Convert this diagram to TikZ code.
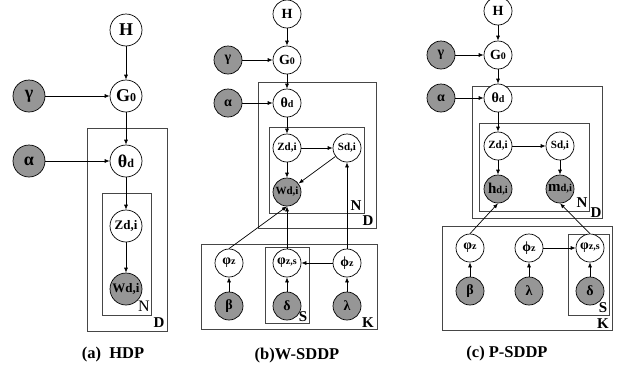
\documentclass[tikz,border=0pt]{standalone}
\usepackage{fontspec}
\setmainfont{Liberation Serif}
\usetikzlibrary{arrows.meta}
\definecolor{obsgray}{RGB}{150,150,150}
\definecolor{platecol}{RGB}{70,70,70}
\newcommand{\fsz}[1]{\fontsize{#1}{#1}\selectfont}
\begin{document}
\begin{tikzpicture}[x=1pt,y=-1pt,
  every node/.style={font=\bfseries},
  varA/.style={circle, draw, line width=0.7pt, fill=white, minimum size=32pt, inner sep=0pt, font=\bfseries\fsz{18}},
  obsA/.style={varA, fill=obsgray},
  varB/.style={circle, draw, line width=0.7pt, fill=white, minimum size=28pt, inner sep=0pt, font=\bfseries\fsz{14}},
  obsB/.style={varB, fill=obsgray},
  plate/.style={draw=platecol, line width=0.9pt},
  plab/.style={inner sep=0pt, font=\bfseries\fsz{15}},
  captext/.style={inner sep=0pt, font=\bfseries\fsz{16.5}},
  edge/.style={-{Latex[length=5pt,width=4pt]}, line width=0.7pt}]
\useasboundingbox (0,0) rectangle (618,370);

% ---------------- (a) HDP ----------------
\draw[plate] (87,128) rectangle (167,331);
\draw[plate] (102,193) rectangle (151,315);
\node[varA] (aH) at (126,30) {H};
\node[varA] (aG) at (126,96) {G{\fsz{12}0}};
\node[obsA] (agam) at (29,96) {γ};
\node[obsA] (aalp) at (29,161) {α};
\node[varA] (ath) at (126,161) {θ{\fsz{12}d}};
\node[varA] (az) at (126,226) {\fsz{13}Zd,i};
\node[obsA] (aw) at (126,289) {\fsz{13}Wd,i};
\node[plab, font=\fsz{16}] (aN) at (144,306) {N};
\node[plab] (aD) at (159,323) {D};
\node[captext] (acap) at (113,355) {(a)\ \ HDP};
\draw[edge] (aH) -- (aG);
\draw[edge] (agam) -- (aG);
\draw[edge] (aG) -- (ath);
\draw[edge] (aalp) -- (ath);
\draw[edge] (ath) -- (az);
\draw[edge] (az) -- (aw);

% ---------------- (b) W-SDDP ----------------
\draw[plate] (258,82) rectangle (376,228);
\draw[plate] (269,127) rectangle (364,213);
\draw[plate] (201,244) rectangle (377,329);
\draw[plate] (265,247) rectangle (309,323);
\node[varB] (bH) at (287,14) {H};
\node[varB] (bG) at (287,60) {G{\fsz{10}0}};
\node[obsB] (bgam) at (228,60) {γ};
\node[obsB] (balp) at (228,103) {α};
\node[varB] (bth) at (287,103) {θ{\fsz{10}d}};
\node[varB] (bz) at (287,148) {\fsz{11}Zd,i};
\node[varB] (bs) at (347,148) {\fsz{11}Sd,i};
\node[obsB] (bw) at (287,192) {\fsz{11}Wd,i};
\node[varB] (bphi) at (229,263) {φ{\fsz{10}z}};
\node[varB] (bphis) at (287,263) {φ{\fsz{10}z,s}};
\node[varB] (bvphi) at (347,263) {ϕ{\fsz{10}z}};
\node[obsB] (bbeta) at (229,306) {β};
\node[obsB] (bdel) at (287,306) {δ};
\node[obsB] (blam) at (347,306) {λ};
\node[plab] (bN) at (356,206) {N};
\node[plab] (bD) at (368,221) {D};
\node[plab] (bS) at (303,317) {S};
\node[plab] (bK) at (368,323) {K};
\node[captext] (bcap) at (297,356) {(b)W-SDDP};
\draw[edge] (bH) -- (bG);
\draw[edge] (bgam) -- (bG);
\draw[edge] (bG) -- (bth);
\draw[edge] (balp) -- (bth);
\draw[edge] (bth) -- (bz);
\draw[edge] (bz) -- (bs);
\draw[edge] (bz) -- (bw);
\draw[edge] (bs) -- (bw);
\draw[edge] (bphi.north) -- (bw.south);
\draw[edge] (bphis) -- (bw);
\draw[edge] (bvphi) -- (bs);
\draw[edge] (bvphi) -- (bphis);
\draw[edge] (bbeta) -- (bphi);
\draw[edge] (bdel) -- (bphis);
\draw[edge] (blam) -- (bvphi);

% ---------------- (c) P-SDDP ----------------
\draw[plate] (472,86) rectangle (602,218);
\draw[plate] (479,123) rectangle (589,211);
\draw[plate] (442,226) rectangle (612,330);
\draw[plate] (568,234) rectangle (609,315);
\node[varB] (cH) at (498,11) {H};
\node[varB] (cG) at (498,55) {G{\fsz{10}0}};
\node[obsB] (cgam) at (441,55) {γ};
\node[obsB] (calp) at (441,98) {α};
\node[varB] (cth) at (498,98) {θ{\fsz{10}d}};
\node[varB] (cz) at (498,146) {\fsz{11}Zd,i};
\node[varB] (cs) at (560,146) {\fsz{11}Sd,i};
\node[obsB] (ch) at (498,189) {\fsz{15}h{\fsz{10.5}d,i}};
\node[obsB] (cm) at (560,189) {\fsz{15}m{\fsz{10.5}d,i}};
\node[varB] (cphi) at (470,248) {φ{\fsz{10}z}};
\node[varB] (cvphi) at (529,248) {ϕ{\fsz{10}z}};
\node[varB] (cphis) at (590,248) {φ{\fsz{10}z,s}};
\node[obsB] (cbeta) at (470,291) {β};
\node[obsB] (clam) at (529,291) {λ};
\node[obsB] (cdel) at (590,291) {δ};
\node[plab] (cN) at (582,203) {N};
\node[plab] (cD) at (596,213) {D};
\node[plab] (cS) at (603,308) {S};
\node[plab] (cK) at (603,324) {K};
\node[captext] (ccap) at (507,354) {(c) P-SDDP};
\draw[edge] (cH) -- (cG);
\draw[edge] (cgam) -- (cG);
\draw[edge] (cG) -- (cth);
\draw[edge] (calp) -- (cth);
\draw[edge] (cth) -- (cz);
\draw[edge] (cz) -- (cs);
\draw[edge] (cz) -- (ch);
\draw[edge] (cs) -- (cm);
\draw[edge] (cphi.north) -- (ch.south);
\draw[edge] (cphis.north) -- (cm.south);
\draw[edge] (cvphi) -- (cphis);
\draw[edge] (cbeta) -- (cphi);
\draw[edge] (clam) -- (cvphi);
\draw[edge] (cdel) -- (cphis);
\end{tikzpicture}
\end{document}
